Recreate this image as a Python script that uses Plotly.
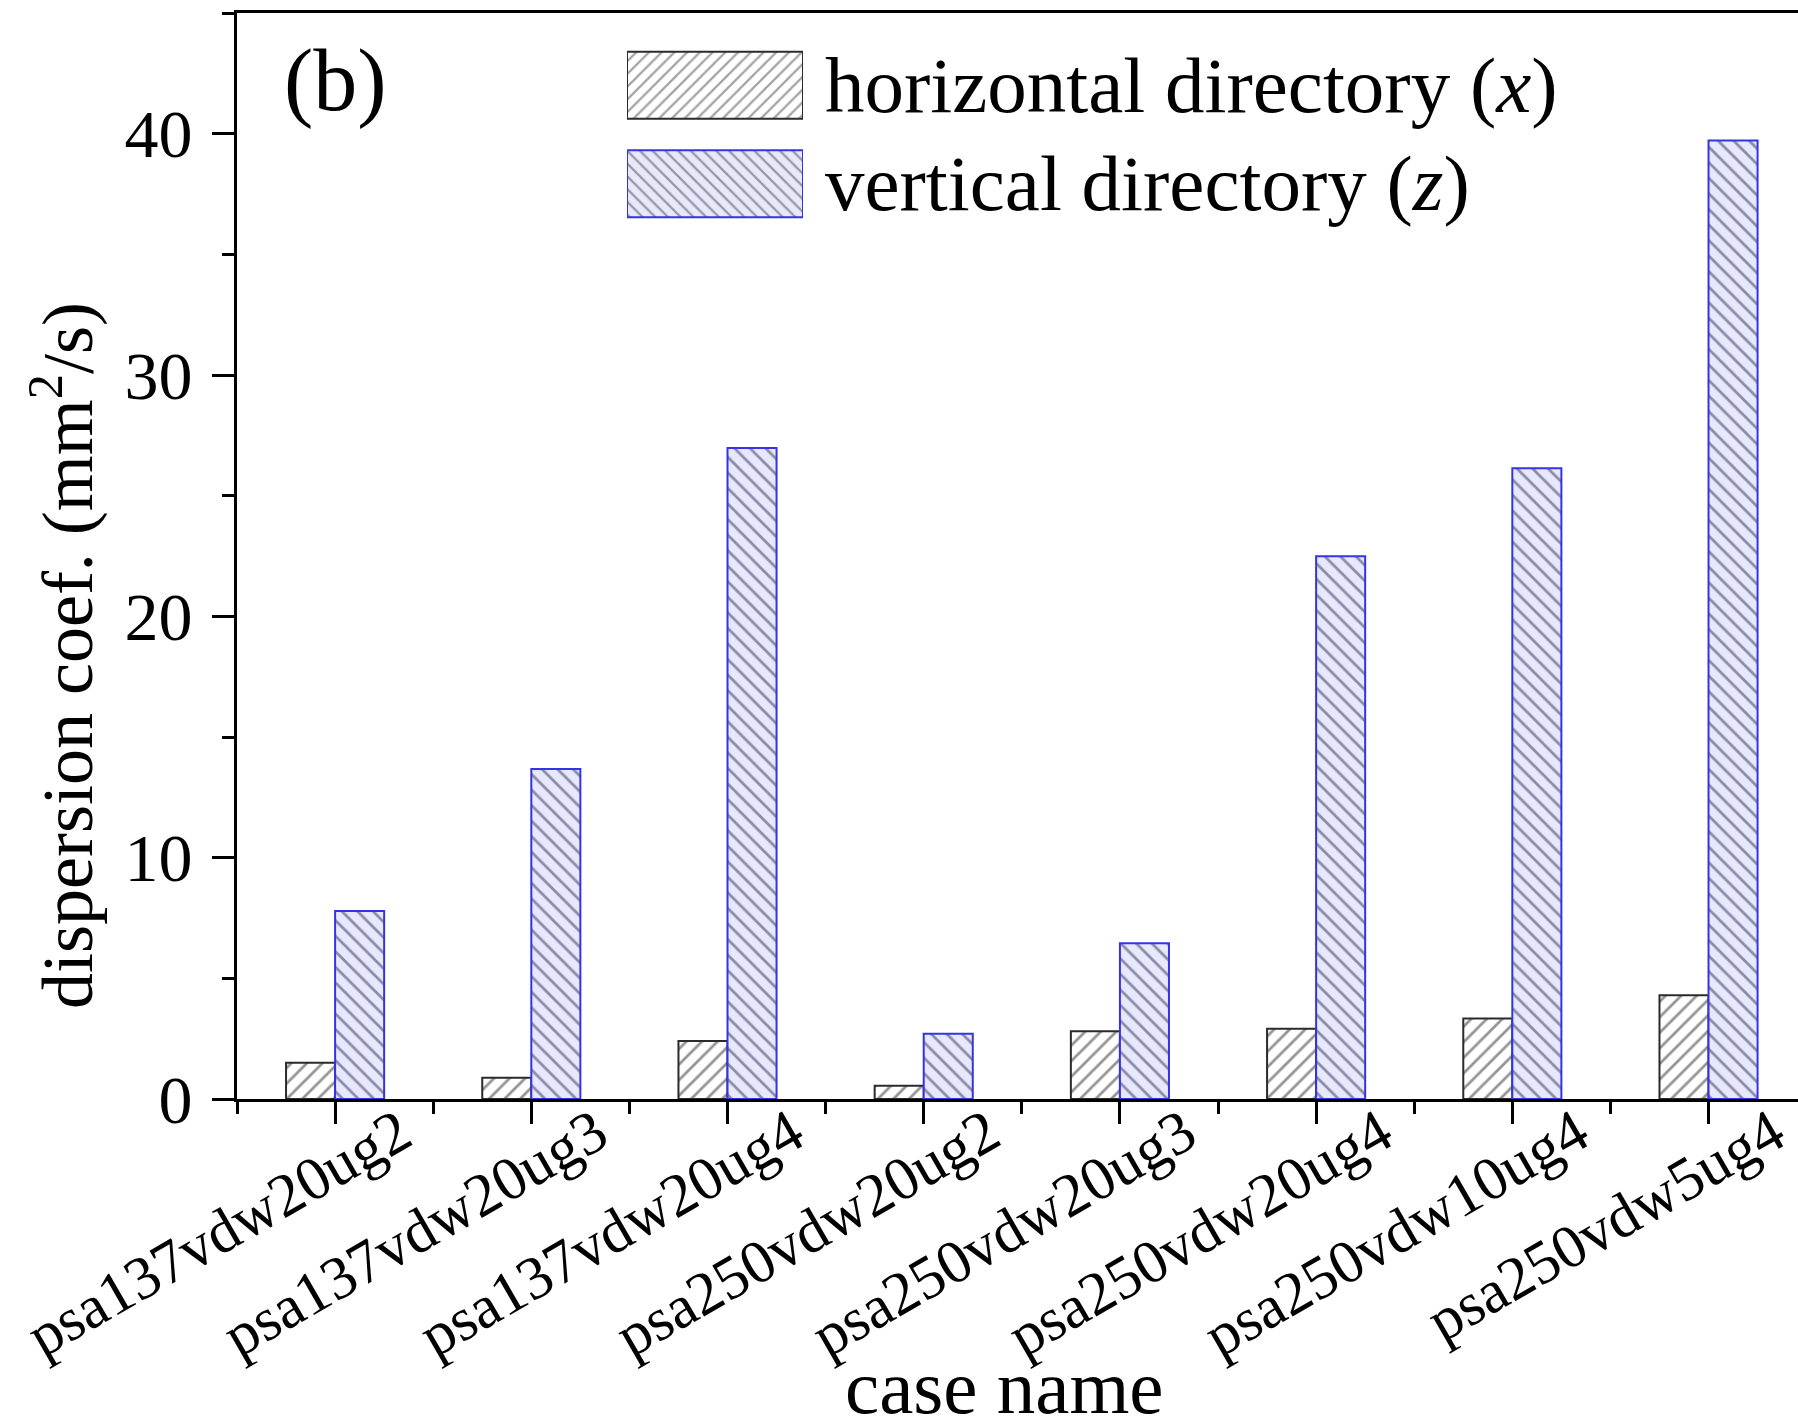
import plotly.graph_objects as go

# ---- data ----
cases = ["psa137vdw20ug2", "psa137vdw20ug3", "psa137vdw20ug4", "psa250vdw20ug2",
         "psa250vdw20ug3", "psa250vdw20ug4", "psa250vdw10ug4", "psa250vdw5ug4"]
horizontal_x = [1.50, 0.88, 2.40, 0.55, 2.81, 2.91, 3.34, 4.30]
vertical_z = [7.79, 13.67, 26.97, 2.70, 6.45, 22.49, 26.14, 39.72]
series_names = ["horizontal directory (<i>x</i>)", "vertical directory (<i>z</i>)"]
y_ticks = [0, 10, 20, 30, 40]

FONT = "Liberation Serif"
H_LINE, H_FG, H_BG = "#2b2b2b", "#2b2b2b", "#ffffff"
V_LINE, V_FG, V_BG = "#3434e6", "#2e2e55", "#e8e8fc"

W, H = 1798, 1417
ML, MR, MT, MB = 237, 0, 13, 318
PW, PH = W - ML - MR, H - MT - MB

def px_x(px):
    return (px - ML) / PW

def px_y(py):
    return (H - MB - py) / PH

idx = list(range(len(cases)))

fig = go.Figure()
fig.add_trace(go.Bar(
    x=idx, y=horizontal_x, name=series_names[0], showlegend=False,
    marker=dict(color=H_BG, line=dict(color=H_LINE, width=2),
                pattern=dict(shape="/", fgcolor=H_FG, bgcolor=H_BG, size=11, solidity=0.25)),
))
fig.add_trace(go.Bar(
    x=idx, y=vertical_z, name=series_names[1], showlegend=False,
    marker=dict(color=V_BG, line=dict(color=V_LINE, width=2),
                pattern=dict(shape="\\", fgcolor=V_FG, bgcolor=V_BG, size=11, solidity=0.25)),
))

# legend swatches (drawn on an auxiliary, hidden pair of axes)
fig.add_trace(go.Bar(
    y=series_names, x=[1, 1], orientation="h", width=0.68, showlegend=False,
    xaxis="x2", yaxis="y2", hoverinfo="skip",
    marker=dict(color=[H_BG, V_BG], line=dict(color=[H_LINE, V_LINE], width=2),
                pattern=dict(shape=["/", "\\"], fgcolor=[H_FG, V_FG], bgcolor=[H_BG, V_BG],
                             size=9, solidity=0.25)),
))

fig.update_layout(
    width=W, height=H,
    margin=dict(l=ML, r=MR, t=MT, b=MB, autoexpand=False),
    paper_bgcolor="white", plot_bgcolor="white",
    font=dict(family=FONT, color="black"),
    barmode="group", bargap=0.5, bargroupgap=0,
    showlegend=False,
    xaxis=dict(
        type="linear", range=[-0.5, 7.456],
        tickmode="array", tickvals=idx, ticktext=cases, tickangle=-30,
        tickfont=dict(size=61, family=FONT),
        ticklabelshift=65, ticklabelstandoff=-50, ticklabeloverflow="allow",
        ticks="outside", ticklen=22, tickwidth=3, tickcolor="black",
        minor=dict(ticks="outside", ticklen=12, tickwidth=3, tickcolor="black",
                   tick0=-0.5, dtick=1, showgrid=False),
        showline=True, linewidth=3, linecolor="black", mirror=True,
        showgrid=False, zeroline=False,
    ),
    yaxis=dict(
        range=[0, 45], tickmode="array", tickvals=y_ticks,
        tickfont=dict(size=68, family=FONT),
        ticks="outside", ticklen=22, tickwidth=3, tickcolor="black",
        ticklabelstandoff=6,
        minor=dict(ticks="outside", ticklen=12, tickwidth=3, tickcolor="black",
                   tick0=0, dtick=5, showgrid=False),
        showline=True, linewidth=3, linecolor="black", mirror=True,
        showgrid=False, zeroline=False,
    ),
    xaxis2=dict(domain=[px_x(627), px_x(803)], range=[0, 1], anchor="y2",
                visible=False, fixedrange=True),
    yaxis2=dict(domain=[px_y(233), px_y(36)], type="category", autorange="reversed",
                anchor="x2", visible=False, fixedrange=True),
)

annotations = [
    dict(text="(b)", x=px_x(335), y=px_y(80), xanchor="center", yanchor="middle",
         font=dict(size=88)),
    dict(text=series_names[0], x=px_x(823), y=px_y(85), xanchor="left", yanchor="middle",
         font=dict(size=79)),
    dict(text=series_names[1], x=px_x(823), y=px_y(183.5), xanchor="left", yanchor="middle",
         font=dict(size=79)),
    dict(text="dispersion coef. (mm<sup>2</sup>/s)", x=px_x(62), y=px_y(656),
         xanchor="center", yanchor="middle", textangle=-90, font=dict(size=72)),
    dict(text="case name", x=px_x(1004), y=px_y(1387), xanchor="center", yanchor="middle",
         font=dict(size=77)),
]
for a in annotations:
    a.update(xref="paper", yref="paper", showarrow=False)
fig.update_layout(annotations=annotations)

fig.write_html("out.html")
